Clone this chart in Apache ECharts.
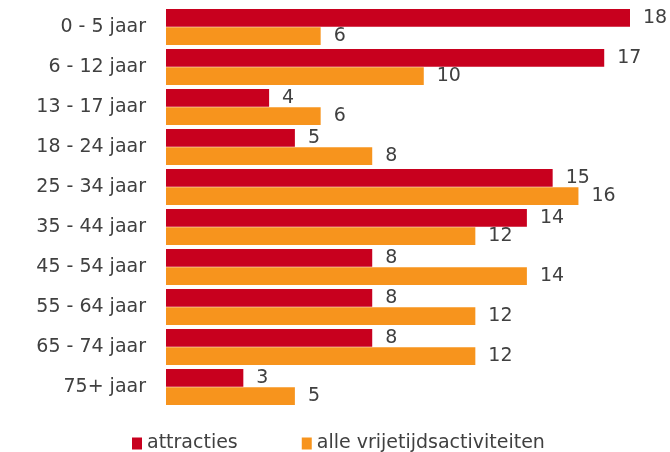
<!DOCTYPE html>
<html>
<head>
<meta charset="utf-8">
<script src="https://cdn.jsdelivr.net/npm/echarts@6/dist/echarts.min.js"></script>
<style>html,body{margin:0;padding:0;background:#fff}#c{width:670px;height:452px}</style>
</head>
<body>
<div id="c"></div>
<script>
const categories = ["0 - 5 jaar","6 - 12 jaar","13 - 17 jaar","18 - 24 jaar","25 - 34 jaar","35 - 44 jaar","45 - 54 jaar","55 - 64 jaar","65 - 74 jaar","75+ jaar"];
const attracties = [18,17,4,5,15,14,8,8,8,3];
const alleActiviteiten = [6,10,6,8,16,12,14,12,12,5];
const seriesNames = ["attracties","alle vrijetijdsactiviteiten"];

const font = "'DejaVu Sans'";
const txt = "#404040";
const fs = 19;
const chart = echarts.init(document.getElementById('c'), null, {renderer:'canvas'});
chart.setOption({
  animation:false,
  backgroundColor:'#fff',
  grid:{left:166,right:40,top:7,height:400},
  xAxis:{type:'value',min:0,max:18,show:false},
  yAxis:{type:'category',data:categories,inverse:true,
    axisLine:{show:false},axisTick:{show:false},
    axisLabel:{color:txt,fontSize:fs,fontFamily:font,margin:20}},
  legend:{left:127,top:429,itemWidth:10,itemHeight:12,itemGap:64,icon:'rect',
    textStyle:{color:txt,fontSize:fs,fontFamily:font},data:seriesNames},
  series:[
    {name:seriesNames[0],type:'bar',data:attracties,barCategoryGap:'10%',barGap:'3%',
     itemStyle:{color:'#C8001E'},
     label:{show:true,position:'right',distance:13,color:txt,fontSize:fs,fontFamily:font}},
    {name:seriesNames[1],type:'bar',data:alleActiviteiten,barCategoryGap:'10%',barGap:'3%',
     itemStyle:{color:'#F7941D'},
     label:{show:true,position:'right',distance:13,color:txt,fontSize:fs,fontFamily:font}}
  ]
});
</script>
</body>
</html>
